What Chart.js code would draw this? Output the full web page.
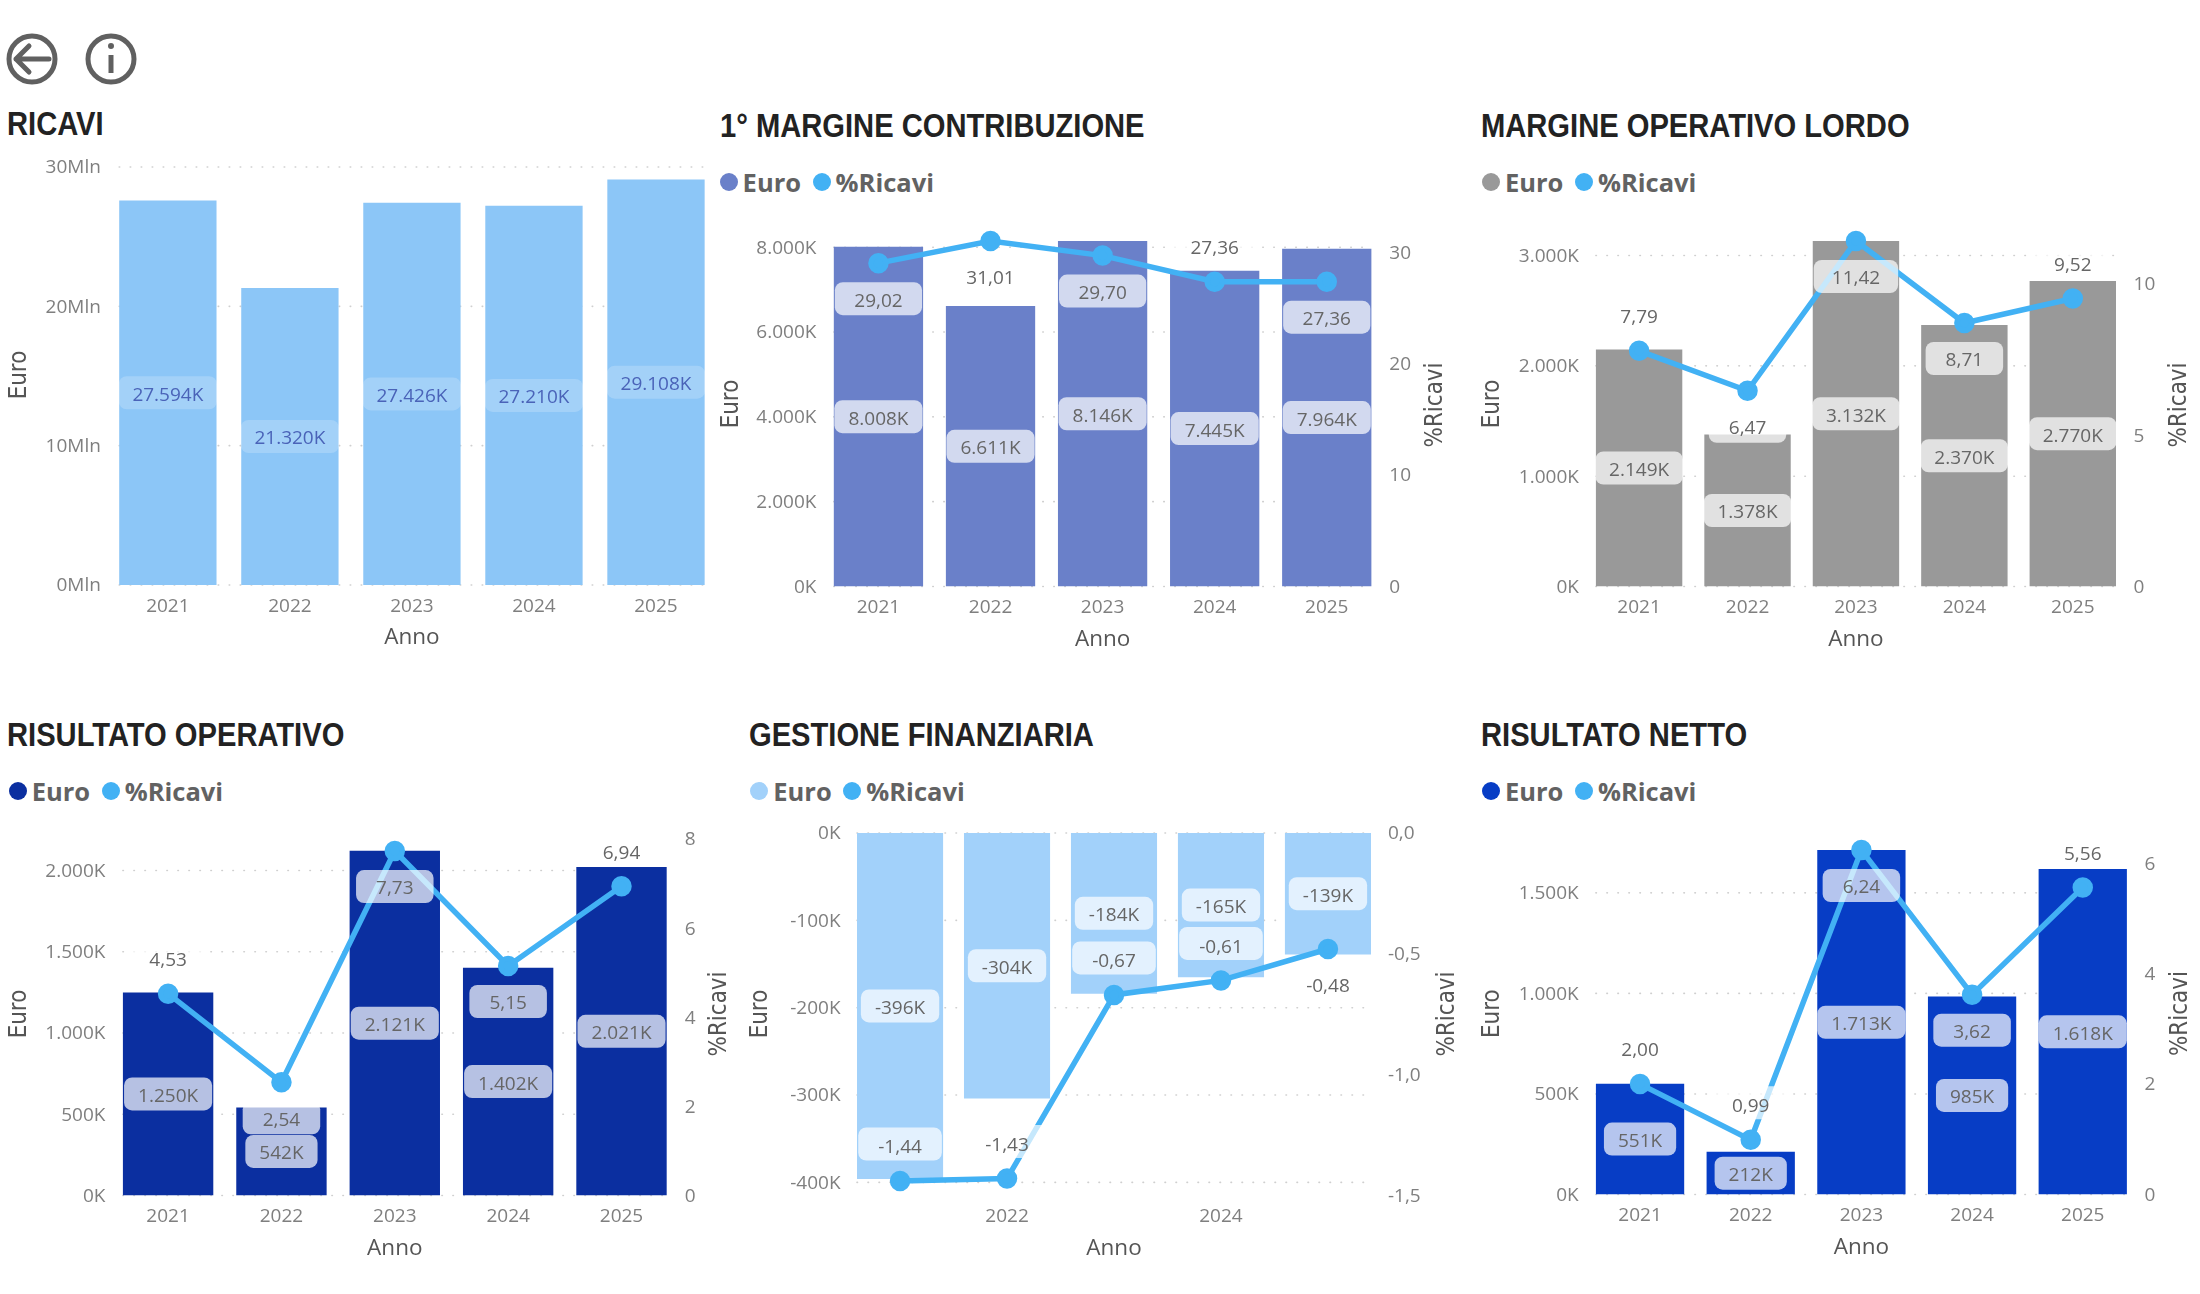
<!DOCTYPE html>
<html lang="it">
<head>
<meta charset="utf-8">
<title>Conto economico</title>
<script src="https://cdn.jsdelivr.net/npm/chart.js@4"></script>
<style>
html,body{margin:0;padding:0;background:#fff;}
body{position:relative;width:2200px;height:1294px;overflow:hidden;}
canvas{position:absolute;display:block;}
.ttl{position:absolute;font-family:"Liberation Sans",sans-serif;font-weight:700;color:#222;font-size:33.5px;line-height:40px;white-space:nowrap;transform:scaleX(.87);transform-origin:left center;}
.lg{position:absolute;font-family:"Open Sans",sans-serif;font-weight:700;color:#626262;font-size:25.5px;line-height:30px;white-space:nowrap;}
.dot{position:absolute;width:18px;height:18px;border-radius:50%;}
svg{position:absolute;left:0;top:0;}
</style>
</head>
<body>
<svg width="160" height="90" fill="none" stroke="#606060" stroke-width="5">
  <circle cx="32" cy="59" r="23"/>
  <path d="M49 59H16M29 46L16 59L29 72" stroke-linecap="round" stroke-linejoin="round"/>
  <circle cx="111" cy="59" r="23"/>
  <path d="M111 55V73"/>
  <circle cx="111" cy="46" r="2" fill="#606060" stroke-width="2"/>
</svg>
<script>
const years = ['2021','2022','2023','2024','2025'];
const ricaviEuro = [27594,21320,27426,27210,29108];
const mcEuro = [8008,6611,8146,7445,7964];
const mcPct = [29.02,31.01,29.70,27.36,27.36];
const molEuro = [2149,1378,3132,2370,2770];
const molPct = [7.79,6.47,11.42,8.71,9.52];
const roEuro = [1250,542,2121,1402,2021];
const roPct = [4.53,2.54,7.73,5.15,6.94];
const gfEuro = [-396,-304,-184,-165,-139];
const gfPct = [-1.44,-1.43,-0.67,-0.61,-0.48];
const rnEuro = [551,212,1713,985,1618];
const rnPct = [2.00,0.99,6.24,3.62,5.56];

const ricaviTicks = [0,10000,20000,30000];
const mcTicks = [0,2000,4000,6000,8000];
const mcPctTicks = [0,10,20,30];
const molTicks = [0,1000,2000,3000];
const molPctTicks = [0,5,10];
const roTicks = [0,500,1000,1500,2000];
const roPctTicks = [0,2,4,6,8];
const gfTicks = [0,-100,-200,-300,-400];
const gfPctTicks = [0,-0.5,-1,-1.5];
const rnTicks = [0,500,1000,1500];
const rnPctTicks = [0,2,4,6];

const mcPlace = ['below','below','below','above','below'];
const molPlace = ['above','below','below','below','above'];
const roPlace = ['above','below','below','below','above'];
const gfPlace = ['above','above','above','above','below'];
const rnPlace = ['above','above','below','below','above'];

const LINE = '#42B1F4';
const panels = [
 {title:'RICAVI',tx:7,ty:124,euro:ricaviEuro,color:'#8CC6F7',
  barL:118.7,barR:704,barW:97.3,top:167,bot:585,yT:19.5,yTc:375,anno:639,
  y:{min:0,max:30000,ticks:ricaviTicks},unit:'Mln',pillA:.2,pillText:'#4A63B8'},
 {title:'1° MARGINE CONTRIBUZIONE',tx:720.4,ty:125.5,euro:mcEuro,pct:mcPct,place:mcPlace,color:'#6A80C9',
  barL:833.3,barR:1370.4,barW:89.2,top:241,bot:586,yT:731.5,yTc:404,anno:640.5,rT:1435,rTc:405,
  y:{min:0,max:8146,ticks:mcTicks},y2:{min:0,max:31.01,ticks:mcPctTicks,dec:0},lx:728.6,ly:181.5},
 {title:'MARGINE OPERATIVO LORDO',tx:1481,ty:125.5,euro:molEuro,pct:molPct,place:molPlace,color:'#999999',
  barL:1595.9,barR:2116,barW:86.4,top:241,bot:586,yT:1493,yTc:404,anno:640.5,rT:2180,rTc:405,
  y:{min:0,max:3132,ticks:molTicks},y2:{min:0,max:11.42,ticks:molPctTicks,dec:0},lx:1491,ly:181.5},
 {title:'RISULTATO OPERATIVO',tx:7,ty:735,euro:roEuro,pct:roPct,place:roPlace,color:'#0B2FA0',
  barL:122.4,barR:665.7,barW:90.3,top:839,bot:1195,yT:19.5,yTc:1014,anno:1249.5,rT:719,rTc:1014,
  y:{min:0,max:2194,ticks:roTicks},y2:{min:0,max:8,ticks:roPctTicks,dec:0},lx:17.7,ly:790.5},
 {title:'GESTIONE FINANZIARIA',tx:748.6,ty:735,euro:gfEuro,pct:gfPct,place:gfPlace,color:'#A2D1FA',
  barL:857,barR:1371,barW:86.1,top:833,bot:1195,yT:761,yTc:1014,anno:1249.5,rT:1448,rTc:1014,every:2,
  y:{min:-415,max:0,ticks:gfTicks},y2:{min:-1.5,max:0,ticks:gfPctTicks,dec:1},lx:759.3,ly:790.5},
 {title:'RISULTATO NETTO',tx:1481,ty:735,euro:rnEuro,pct:rnPct,place:rnPlace,color:'#073DC5',
  barL:1595.9,barR:2126.4,barW:88.2,top:850.4,bot:1195,yT:1493,yTc:1014,anno:1249.5,rT:2180.5,rTc:1014,
  y:{min:0,max:1713,ticks:rnTicks},y2:{min:0,max:6.24,ticks:rnPctTicks,dec:0},lx:1491,ly:790.5}
];

const TICK_FONT = {family:'"Open Sans"',size:19};
const TICK = '#7F7F7F';

function group(n){
  const a = Math.abs(Math.round(n)).toString().replace(/\B(?=(\d{3})+$)/g,'.');
  return (n<0?'-':'')+a;
}
const kFmt = n => group(n)+'K';
const comma = (n,d) => n.toFixed(d).replace('.',',');
const setTicks = vals => s => { s.ticks = vals.map(v=>({value:v})); };

const dottedGrid = {
  id:'dottedGrid',
  beforeDatasetsDraw(chart,_,o){
    const {ctx,scales:{y}} = chart;
    ctx.save();
    ctx.strokeStyle='#CFCFCF';ctx.lineWidth=1.6;ctx.lineCap='round';ctx.setLineDash([.5,10.5]);
    y.ticks.forEach(t=>{
      const py=y.getPixelForValue(t.value);
      ctx.beginPath();ctx.moveTo(o.from,py);ctx.lineTo(o.to,py);ctx.stroke();
    });
    ctx.restore();
  }
};

function pill(ctx,txt,cx,cy,w,alpha,color,textDy){
  ctx.fillStyle='rgba(255,255,255,'+alpha+')';
  ctx.beginPath();ctx.roundRect(cx-w/2,cy-16.5,w,33,8);ctx.fill();
  ctx.fillStyle=color;ctx.fillText(txt,cx,cy+textDy);
}
const valueLabels = {
  id:'valueLabels',
  afterDatasetsDraw(chart,_,o){
    const {ctx}=chart;
    const p=o.panel;
    ctx.save();
    ctx.font='19px "Open Sans"';ctx.textAlign='center';ctx.textBaseline='middle';
    const alpha=p.pillA||.7, color=p.pillText||'#666666';
    chart.getDatasetMeta(0).data.forEach((b,i)=>{
      const t=kFmt(p.euro[i]);
      const w=Math.min(ctx.measureText(t).width+28,p.barW+1);
      pill(ctx,t,b.x,(b.y+b.base)/2,w,alpha,color,2.5);
    });
    if(p.pct){
      chart.getDatasetMeta(1).data.forEach((pt,i)=>{
        const t=comma(p.pct[i],2);
        const w=Math.min(ctx.measureText(t).width+40,p.barW-2);
        const above=p.place[i]==='above';
        pill(ctx,t,pt.x,pt.y+(above?-37:35.5),w,alpha,'#666666',above?4:2.5);
      });
    }
    ctx.restore();
  }
};
const axisTitles = {
  id:'axisTitles',
  afterDraw(chart,_,o){
    const {ctx}=chart;
    o.items.forEach(it=>{
      ctx.save();
      ctx.translate(it.x,it.y);
      ctx.rotate(-Math.PI/2);
      ctx.scale(1,1.12);
      ctx.font='21.5px "DejaVu Sans"';ctx.fillStyle='#555555';
      ctx.textAlign='center';ctx.textBaseline='middle';
      ctx.fillText(it.text,0,0);
      ctx.restore();
    });
  }
};

panels.forEach(p=>{
  const h=document.createElement('div');
  h.className='ttl';h.textContent=p.title;
  h.style.left=p.tx+'px';h.style.top=(p.ty-20)+'px';
  document.body.appendChild(h);
  if(p.pct){
    [['Euro',p.color,0],['%Ricavi',LINE,93]].forEach(([txt,col,dx])=>{
      const d=document.createElement('div');
      d.className='dot';d.style.background=col;
      d.style.left=(p.lx+dx-9)+'px';d.style.top=(p.ly-9)+'px';
      document.body.appendChild(d);
      const l=document.createElement('div');
      l.className='lg';l.textContent=txt;
      l.style.left=(p.lx+dx+14)+'px';l.style.top=(p.ly-15)+'px';
      document.body.appendChild(l);
    });
  }
  const step=(p.barR-p.barL-p.barW)/4;
  const bandL=p.barL-(step-p.barW)/2, bandR=p.barR+(step-p.barW)/2;
  const PAD=30;
  const left=p.yT-14, top=p.top-PAD;
  const right=p.rT?p.rT+16:bandR;
  const bottom=p.anno+14;
  const cv=document.createElement('canvas');
  cv.width=Math.round(right-left);cv.height=Math.round(bottom-top);
  cv.style.left=left+'px';cv.style.top=top+'px';
  cv.style.width=cv.width+'px';cv.style.height=cv.height+'px';
  document.body.appendChild(cv);

  const datasets=[{type:'bar',label:'Euro',data:p.euro,backgroundColor:p.color,yAxisID:'y',
    barPercentage:p.barW/step,categoryPercentage:1,order:2}];
  if(p.pct) datasets.push({type:'line',label:'%Ricavi',data:p.pct,borderColor:LINE,backgroundColor:LINE,
    borderWidth:5.5,pointRadius:7.5,pointHoverRadius:7.5,tension:0,yAxisID:'y2',clip:false,order:1});

  const yFmt=v=>p.unit?(v/1000)+p.unit:kFmt(v);
  const scales={
    x:{type:'category',offset:true,grid:{display:false,drawTicks:false},border:{display:false},
      ticks:{font:TICK_FONT,color:TICK,padding:10,maxRotation:0,autoSkip:false,
        callback(v,i){return (!p.every||i%p.every===1)?this.getLabelForValue(v):'';}},
      title:{display:true,text:'Anno',font:{family:'"Open Sans"',size:22.5},color:'#555555',padding:{top:0,bottom:2}},
      afterFit(s){s.height=bottom-p.bot;}},
    y:{position:'left',min:p.y.min,max:p.y.max,grid:{display:false,drawTicks:false},border:{display:false},
      afterBuildTicks:setTicks(p.y.ticks),
      ticks:{font:TICK_FONT,color:TICK,padding:6,labelOffset:1,callback:yFmt},
      afterFit(s){s.width=bandL-left;}}
  };
  if(p.y2) scales.y2={position:'right',min:p.y2.min,max:p.y2.max,grid:{display:false,drawTicks:false},border:{display:false},
      afterBuildTicks:setTicks(p.y2.ticks),
      ticks:{font:TICK_FONT,color:TICK,padding:6.5,labelOffset:1,callback:v=>comma(v,p.y2.dec)},
      afterFit(s){s.width=right-bandR;}};

  const titles=[{text:'Euro',x:p.yT-left,y:p.yTc-top}];
  if(p.rT) titles.push({text:'%Ricavi',x:p.rT-left,y:p.rTc-top});

  new Chart(cv,{
    data:{labels:years,datasets},
    options:{
      responsive:false,animation:false,devicePixelRatio:1,
      layout:{padding:{top:PAD,left:0,right:0,bottom:0}},
      scales,
      plugins:{
        legend:{display:false},tooltip:{enabled:false},
        dottedGrid:{from:p.barL-left,to:p.barR-left},
        valueLabels:{panel:p},
        axisTitles:{items:titles}
      }
    },
    plugins:[dottedGrid,valueLabels,axisTitles]
  });
});
</script>
</body>
</html>
